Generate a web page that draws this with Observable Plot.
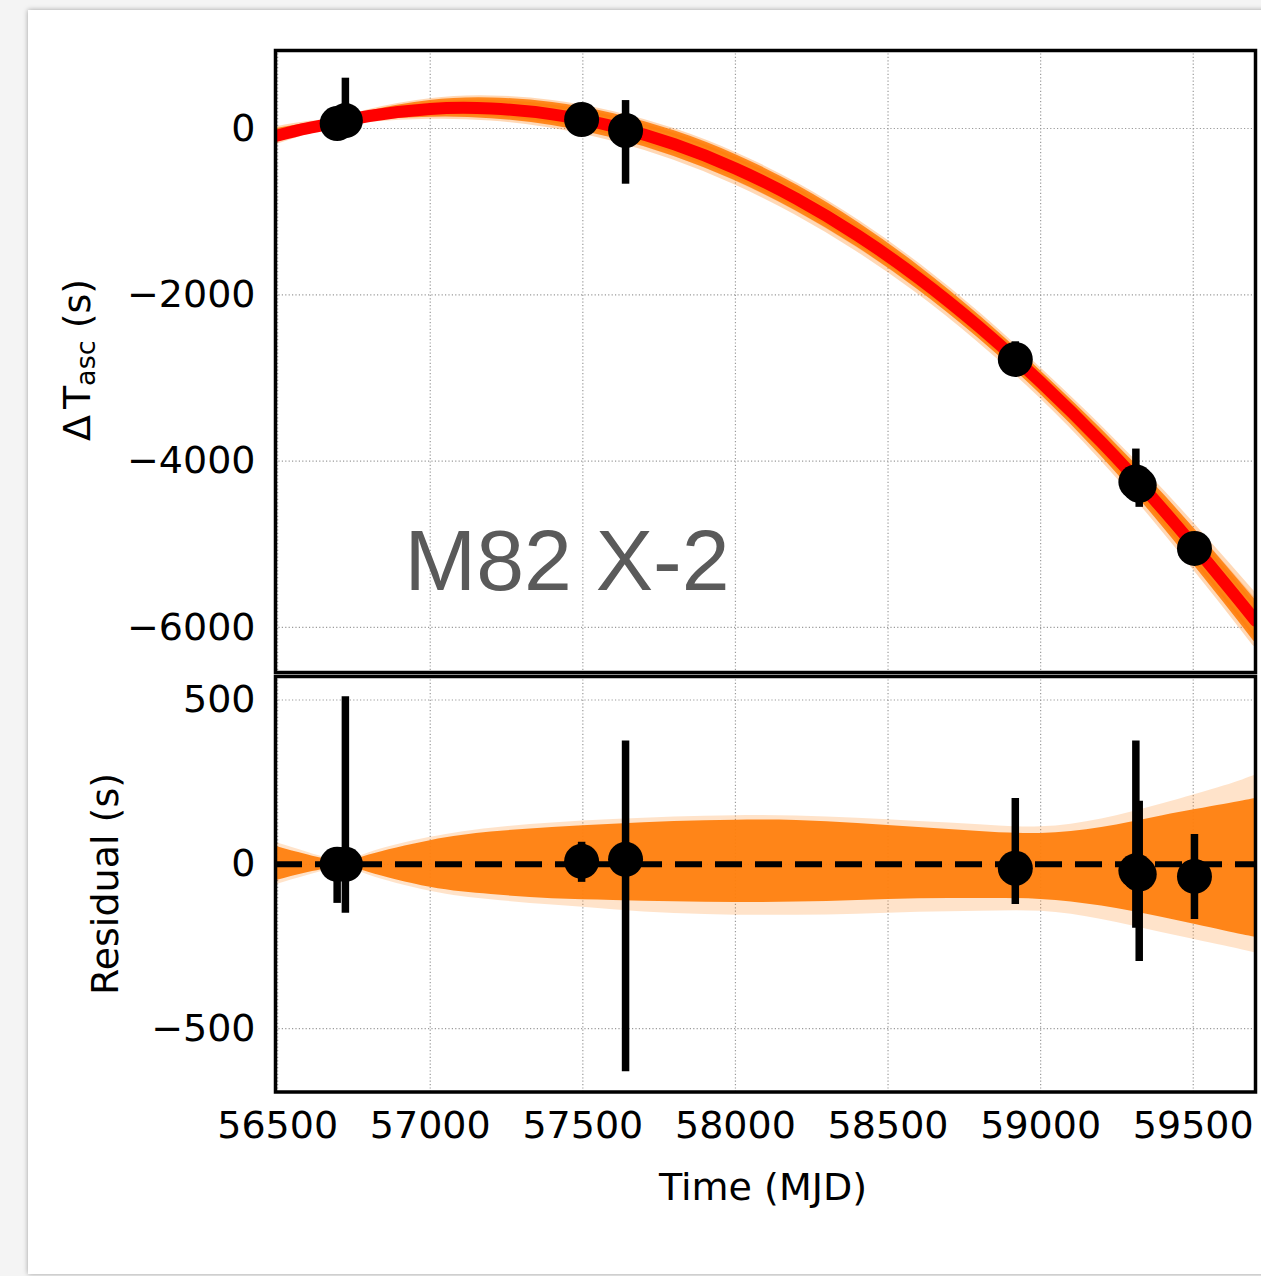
<!DOCTYPE html>
<html><head><meta charset="utf-8">
<script src="https://cdn.jsdelivr.net/npm/d3@7"></script>
<script src="https://cdn.jsdelivr.net/npm/@observablehq/plot@0.6"></script>
<style>
html,body{margin:0;padding:0;width:1261px;height:1276px;overflow:hidden;background:#f4f4f4;}
#card{position:absolute;left:28px;top:10px;width:1260px;height:1264px;background:#fff;box-shadow:0 0 5px rgba(0,0,0,0.35);}
#topPanel,#bottomPanel{position:absolute;left:0;}
</style></head><body>
<div id="card"></div>
<div id="topPanel" style="top:0px"></div>
<div id="bottomPanel" style="top:600px"></div>
<script>
// ---- data ----
const obsMJD   = [56695, 56722, 57496, 57640, 58917, 59312, 59323, 59504];
const obsDT    = [60, 95, 108, -24, -2777, -4250, -4290, -5050];
const residual = [0, 0, 9, 15, -12, -20, -30, -37];
const errPlus  = [40, 510, 58, 360, 212, 395, 222, 128];
const errMinus = [119, 149, 64, 646, 110, 175, 266, 131];

const gridMJD  = [56493, 56600, 56710, 56800, 57000, 57200, 57400, 57600, 57800, 58000, 58200, 58400, 58600, 58800, 59000, 59200, 59400, 59600, 59704];
const modelDT  = [-90, 5, 80, 150, 235, 240, 170, 25, -190, -480, -845, -1285, -1800, -2390, -3050, -3775, -4580, -5450, -5920];
const innerHi  = [55, 28, 8, 28, 72, 98, 112, 122, 130, 134, 133, 124, 112, 100, 94, 112, 148, 182, 200];
const innerLo  = [-50, -25, -8, -25, -70, -92, -105, -110, -114, -116, -115, -110, -105, -104, -107, -127, -162, -202, -222];
const outerHi  = [66, 36, 11, 35, 82, 110, 126, 136, 144, 148, 147, 140, 130, 120, 114, 138, 184, 238, 272];
const outerLo  = [-62, -33, -11, -33, -82, -108, -124, -138, -150, -155, -155, -152, -146, -143, -143, -168, -208, -248, -270];

const xTicks      = [56500, 57000, 57500, 58000, 58500, 59000, 59500];
const yTicksTop   = [-6000, -4000, -2000, 0];
const yTicksBot   = [-500, 0, 500];
const sourceLabel = ["M82 X-2"];

// ---- tables ----
const obs = obsMJD.map((t, i) => ({
  t, dt: obsDT[i], res: residual[i],
  dtHi: obsDT[i] + errPlus[i], dtLo: obsDT[i] - errMinus[i],
  resHi: residual[i] + errPlus[i], resLo: residual[i] - errMinus[i]
}));
const model = gridMJD.map((t, i) => ({
  t, dt: modelDT[i],
  iHi: innerHi[i], iLo: innerLo[i], oHi: outerHi[i], oLo: outerLo[i],
  tiHi: modelDT[i] + innerHi[i], tiLo: modelDT[i] + innerLo[i],
  toHi: modelDT[i] + outerHi[i], toLo: modelDT[i] + outerLo[i]
}));

const fmt = d3.format("d");
const ORANGE = "#ff7f0e";
const gridStyle = {stroke: "#9a9a9a", strokeOpacity: 1, strokeWidth: 1.2, strokeDasharray: "1.2,2.2"};
const baseStyle = {fontFamily: "DejaVu Sans", fontSize: "38px", background: "transparent", overflow: "visible", color: "black"};
const xDomain = [56493, 59704];

// ---- top panel ----
const topPlot = Plot.plot({
  width: 1261, height: 700,
  marginLeft: 275, marginRight: 6, marginTop: 50, marginBottom: 28,
  style: baseStyle,
  x: {domain: xDomain, axis: null},
  y: {domain: [-6542, 938]},
  marks: [
    Plot.gridX(xTicks, gridStyle),
    Plot.gridY(yTicksTop, gridStyle),
    Plot.axisY(yTicksTop, {tickSize: 0, tickPadding: 20, tickFormat: fmt, fontSize: 38, label: null}),
    Plot.areaY(model, {x: "t", y1: "toLo", y2: "toHi", fill: ORANGE, fillOpacity: 0.25, stroke: ORANGE, strokeOpacity: 0.3, strokeWidth: 7, curve: "natural", clip: true}),
    Plot.areaY(model, {x: "t", y1: "tiLo", y2: "tiHi", fill: ORANGE, fillOpacity: 0.95, stroke: ORANGE, strokeOpacity: 0.9, strokeWidth: 5, curve: "natural", clip: true}),
    Plot.line(model, {x: "t", y: "dt", stroke: "#ff0000", strokeWidth: 12, curve: "natural", clip: true}),
    Plot.ruleX(obs, {x: "t", y1: "dtLo", y2: "dtHi", stroke: "black", strokeWidth: 7.5}),
    Plot.dot(obs, {x: "t", y: "dt", r: 17.5, fill: "black", stroke: null}),
    Plot.text(sourceLabel, {frameAnchor: "top-left", text: d => d, dx: 129, dy: 478, textAnchor: "start", lineAnchor: "top",
      fontSize: 86, fontFamily: "Liberation Sans, Arial, sans-serif", fill: "#5a5a5a"}),
    Plot.frame({stroke: "black", strokeWidth: 3.5})
  ]
});
document.getElementById("topPanel").appendChild(topPlot);

// ---- bottom panel ----
const botPlot = Plot.plot({
  width: 1261, height: 676,
  marginLeft: 275, marginRight: 6, marginTop: 76, marginBottom: 184.5,
  style: baseStyle,
  x: {domain: xDomain},
  y: {domain: [-693, 571.5]},
  marks: [
    Plot.gridX(xTicks, gridStyle),
    Plot.gridY(yTicksBot, gridStyle),
    Plot.axisY(yTicksBot, {tickSize: 0, tickPadding: 20, tickFormat: fmt, fontSize: 38, label: null}),
    Plot.axisX(xTicks, {tickSize: 0, tickPadding: 19, tickFormat: fmt, fontSize: 38, label: null}),
    Plot.areaY(model, {x: "t", y1: "oLo", y2: "oHi", fill: ORANGE, fillOpacity: 0.22, curve: "natural", clip: true}),
    Plot.areaY(model, {x: "t", y1: "iLo", y2: "iHi", fill: ORANGE, fillOpacity: 0.95, curve: "natural", clip: true}),
    Plot.ruleY([0], {stroke: "black", strokeWidth: 6, strokeDasharray: "27,13"}),
    Plot.ruleX(obs, {x: "t", y1: "resLo", y2: "resHi", stroke: "black", strokeWidth: 7.5}),
    Plot.dot(obs, {x: "t", y: "res", r: 17.5, fill: "black", stroke: null}),
    Plot.frame({stroke: "black", strokeWidth: 3.5})
  ]
});
document.getElementById("bottomPanel").appendChild(botPlot);

// ---- axis titles ----
const tsvg = d3.select(topPlot);
const tTitle = tsvg.append("text")
  .attr("transform", "translate(90,360) rotate(-90)")
  .attr("text-anchor", "middle")
  .attr("font-family", "DejaVu Sans").attr("font-size", 38).attr("fill", "black");
tTitle.append("tspan").text("Δ");
tTitle.append("tspan").attr("dx", 6).text("T");
tTitle.append("tspan").attr("font-size", 27).attr("dy", 5).text("asc");
tTitle.append("tspan").attr("dy", -5).text(" (s)");

const bsvg = d3.select(botPlot);
bsvg.append("text")
  .attr("transform", "translate(118,284) rotate(-90)")
  .attr("text-anchor", "middle")
  .attr("font-family", "DejaVu Sans").attr("font-size", 38).attr("fill", "black")
  .text("Residual (s)");
bsvg.append("text")
  .attr("x", 763).attr("y", 600)
  .attr("text-anchor", "middle")
  .attr("font-family", "DejaVu Sans").attr("font-size", 38).attr("fill", "black")
  .text("Time (MJD)");
</script>
</body></html>
